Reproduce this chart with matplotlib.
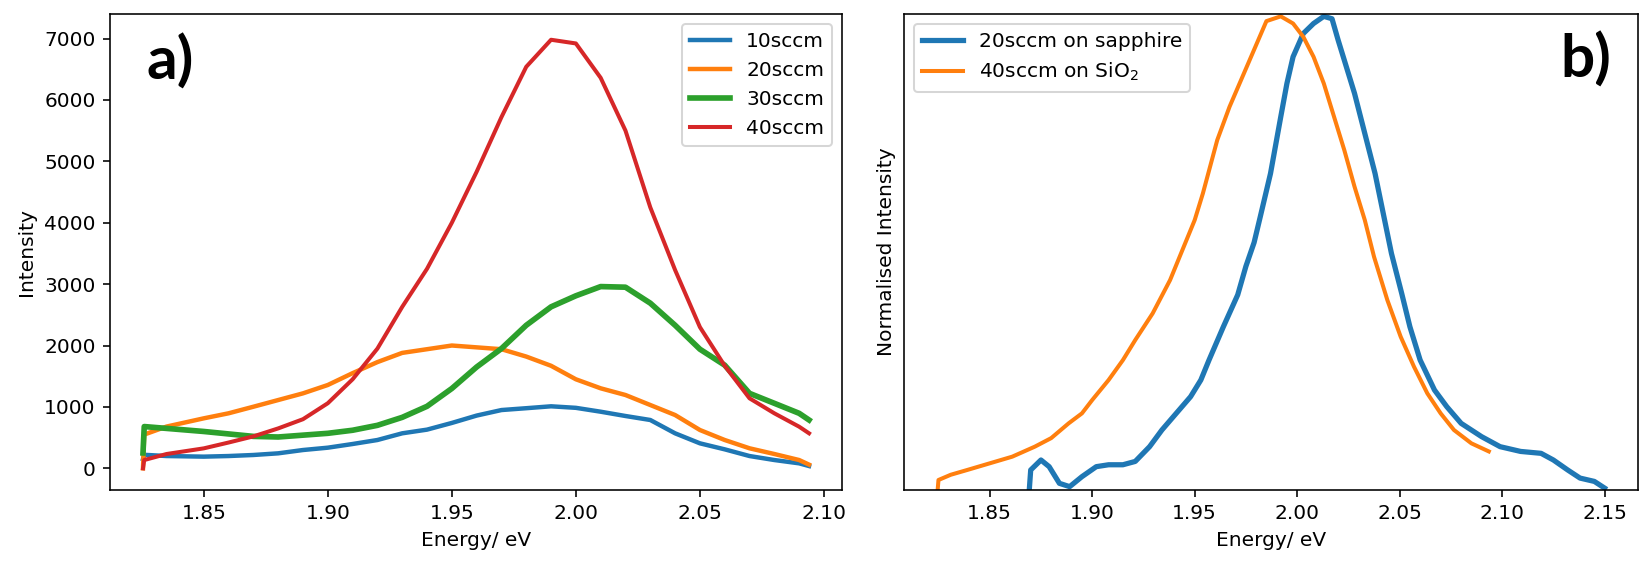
import matplotlib
matplotlib.use('Agg')
import matplotlib.pyplot as plt

# panel a: PL spectra at different gas flows
energy_a = [1.8255, 1.826, 1.835, 1.85, 1.86, 1.87, 1.88, 1.89, 1.90, 1.91, 1.92,
            1.93, 1.94, 1.95, 1.96, 1.97, 1.98, 1.99, 2.00, 2.01, 2.02, 2.03,
            2.04, 2.05, 2.06, 2.07, 2.08, 2.09, 2.094]
sccm10 = [150, 220, 200, 190, 200, 217, 244, 298, 336, 396, 461,
          570, 630, 739, 859, 949, 979, 1010, 985, 922, 852, 787,
          570, 407, 309, 200, 135, 81, 37]
sccm20 = [0, 550, 680, 814, 896, 1003, 1112, 1221, 1357, 1550, 1730,
          1880, 1940, 2000, 1970, 1940, 1820, 1670, 1450, 1303, 1194, 1031,
          868, 624, 461, 326, 233, 135, 60]
sccm30 = [250, 680, 650, 600, 560, 520, 510, 540, 570, 620, 700,
          830, 1010, 1300, 1650, 1950, 2330, 2630, 2810, 2960, 2950, 2690,
          2330, 1940, 1680, 1221, 1059, 896, 787]
sccm40 = [0, 135, 233, 325, 420, 520, 650, 800, 1060, 1450, 1950,
          2630, 3250, 4000, 4830, 5720, 6540, 6980, 6920, 6360, 5500, 4250,
          3230, 2300, 1670, 1140, 896, 678, 570]
labels_a = ['10sccm', '20sccm', '30sccm', '40sccm']

# panel b: normalised spectra
energy_sapphire = [1.8693, 1.870, 1.875, 1.879, 1.884, 1.889, 1.895, 1.902, 1.908,
                   1.915, 1.921, 1.928, 1.934, 1.941, 1.948, 1.953, 1.957, 1.964,
                   1.971, 1.975, 1.979, 1.982, 1.987, 1.992, 1.995, 1.998, 2.003,
                   2.008, 2.013, 2.017, 2.020, 2.024, 2.028, 2.033, 2.038, 2.042,
                   2.046, 2.051, 2.055, 2.060, 2.067, 2.073, 2.080, 2.090, 2.099,
                   2.109, 2.119, 2.125, 2.132, 2.138, 2.145, 2.150]
norm_sapphire = [0.0, 0.042, 0.063, 0.049, 0.014, 0.007, 0.028, 0.049, 0.053,
                 0.053, 0.06, 0.091, 0.126, 0.161, 0.196, 0.231, 0.273, 0.343,
                 0.41, 0.47, 0.52, 0.574, 0.665, 0.784, 0.854, 0.91, 0.959,
                 0.98, 0.995, 0.99, 0.945, 0.889, 0.833, 0.749, 0.665, 0.581,
                 0.497, 0.413, 0.343, 0.273, 0.21, 0.175, 0.14, 0.112, 0.091,
                 0.081, 0.077, 0.063, 0.042, 0.025, 0.018, 0.004]
energy_sio2 = [1.8246, 1.825, 1.831, 1.839, 1.850, 1.861, 1.872, 1.880, 1.8885,
               1.895, 1.900, 1.908, 1.915, 1.921, 1.9295, 1.938, 1.946, 1.950,
               1.954, 1.961, 1.967, 1.974, 1.979, 1.985, 1.992, 1.998, 2.003,
               2.008, 2.013, 2.018, 2.023, 2.028, 2.033, 2.0375, 2.044, 2.0505,
               2.057, 2.0635, 2.070, 2.0765, 2.085, 2.0935]
norm_sio2 = [0.0, 0.021, 0.032, 0.042, 0.056, 0.07, 0.091, 0.109, 0.14,
             0.161, 0.189, 0.231, 0.273, 0.315, 0.371, 0.441, 0.525, 0.567,
             0.623, 0.735, 0.805, 0.875, 0.925, 0.985, 0.995, 0.98, 0.952,
             0.91, 0.854, 0.784, 0.714, 0.637, 0.567, 0.49, 0.399, 0.322,
             0.259, 0.203, 0.161, 0.126, 0.098, 0.081]


fig = plt.figure(figsize=(1652 / 145, 580 / 145), dpi=145)
ax1 = fig.add_axes([0.0664, 0.1552, 0.4435, 0.8207])
ax2 = fig.add_axes([0.5474, 0.1552, 0.4441, 0.8207])

widths = [2.2, 2.2, 2.8, 2.0]
for vals, lab, lw in zip([sccm10, sccm20, sccm30, sccm40], labels_a, widths):
    ax1.plot(energy_a, vals, lw=lw, label=lab)
ax1.set_ylim(-353, 7400)
ax1.set_xticks([1.85, 1.90, 1.95, 2.00, 2.05, 2.10])
ax1.set_xlabel('Energy/ eV')
ax1.set_ylabel('Intensity')
ax1.legend(loc='upper right')

ax2.plot(energy_sapphire, norm_sapphire, lw=2.6, label='20sccm on sapphire')
ax2.plot(energy_sio2, norm_sio2, lw=2.0, label='40sccm on SiO$_2$')
ax2.set_ylim(0, 1)
ax2.set_yticks([])
ax2.set_xticks([1.85, 1.90, 1.95, 2.00, 2.05, 2.10, 2.15])
ax2.set_xlabel('Energy/ eV')
ax2.set_ylabel('Normalised Intensity')
ax2.legend(loc='upper left')

fig.text(147 / 1652, 1 - 62 / 580, 'a)', fontsize=30, fontweight='bold',
         family=['Lato', 'DejaVu Sans'], ha='left', va='center')
fig.text(1560 / 1652, 1 - 60 / 580, 'b)', fontsize=30, fontweight='bold',
         family=['Lato', 'DejaVu Sans'], ha='left', va='center')

plt.savefig('out.png', dpi=145)
